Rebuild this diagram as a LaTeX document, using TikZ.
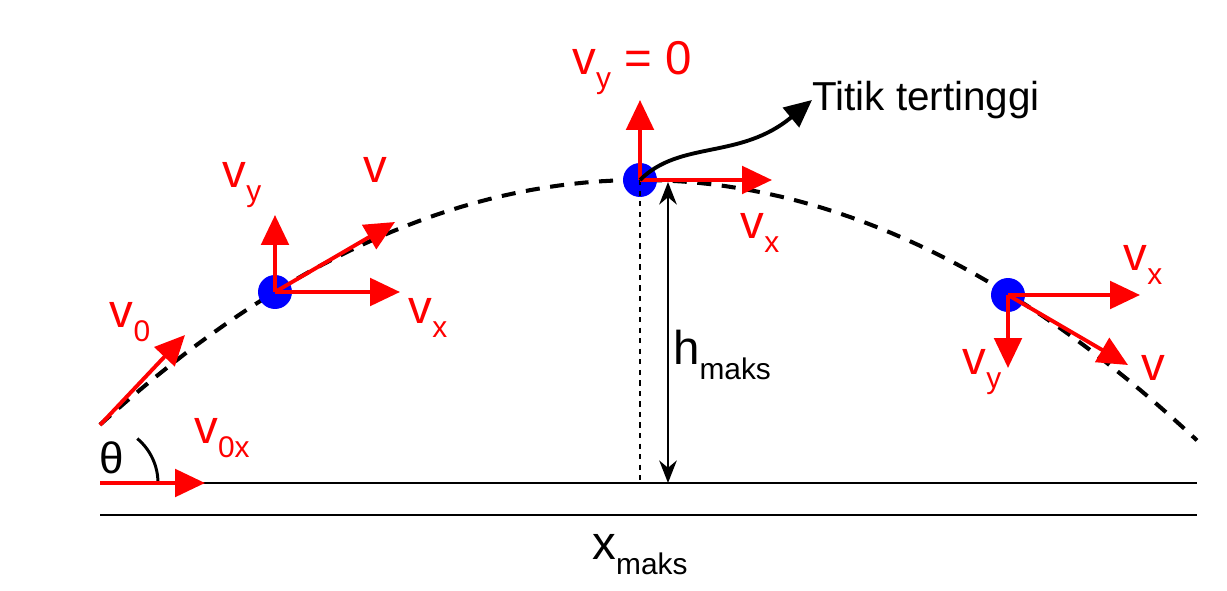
\documentclass[tikz,border=0pt]{standalone}
\usepackage{fontspec}
\setmainfont{Liberation Sans}
\usetikzlibrary{arrows.meta}
\tikzset{vec/.style={draw=red,line width=2.2pt,-{Triangle[length=6mm,width=5.5mm]}}}
\tikzset{ball/.style={circle,fill=blue,minimum size=6.8mm,inner sep=0pt}}
\tikzset{lbl/.style={text=red,inner sep=0pt,font=\fontsize{27}{30}\selectfont}}
\newcommand{\velo}[1]{v\raisebox{-0.55ex}{\fontsize{17}{18}\selectfont #1}}
\begin{document}
\begin{tikzpicture}[x=0.02cm,y=-0.02cm]
    \useasboundingbox (0,0) rectangle (1227,591);
    % ground and range
    \draw[line width=1.5pt] (100,483) -- (1197,483);
    \draw[line width=1.1pt] (100,515) -- (1197,515);
    \node[inner sep=0pt,font=\fontsize{27}{30}\selectfont] (xmaks) at (640,555) {x\raisebox{-0.6ex}{\fontsize{17}{18}\selectfont maks}};
    % trajectory
    \draw[line width=2.3pt,dash pattern=on 8pt off 6pt,domain=100:1197,samples=80]
        plot (\x,{180+0.00084*(\x-640)*(\x-640)});
    % launch
    \coordinate (start) at (100,425);
    \coordinate (origin) at (100,483);
    \draw[line width=1.7pt] (158,483) arc[start angle=0,end angle=50,radius=58*0.02cm];
    \node[inner sep=0pt,font=\fontsize{25}{27}\selectfont] (theta) at (112,458) {θ};
    \coordinate (v0end) at (185,335);
    \coordinate (v0xend) at (205,483);
    \draw[vec] (start) -- (v0end);
    \draw[vec] (origin) -- (v0xend);
    \node[lbl] (v0) at (130,322) {\velo{0}};
    \node[lbl] (v0x) at (222,438) {\velo{0x}};
    % first point
    \node[ball] (p1) at (275,292) {};
    \coordinate (p1y) at (275,215);
    \coordinate (p1x) at (400,292);
    \coordinate (p1v) at (395,222);
    \draw[vec] (p1.center) -- (p1y);
    \draw[vec] (p1.center) -- (p1x);
    \draw[vec] (p1.center) -- (p1v);
    \node[lbl] (p1vy) at (242,185) {\velo{y}};
    \node[lbl] (p1vv) at (375,170) {v};
    \node[lbl] (p1vx) at (428,318) {\velo{x}};
    % highest point
    \node[ball] (top) at (640,180) {};
    \coordinate (topy) at (640,100);
    \coordinate (topx) at (772,180);
    \coordinate (ground) at (640,483);
    \draw[line width=1.5pt,dashed] (top.center) -- (ground);
    \draw[line width=1.5pt,{Stealth[length=4.5mm,width=3.5mm]}-{Stealth[length=4.5mm,width=3.5mm]}] (668,182) -- (668,483);
    \draw[vec] (top.center) -- (topy);
    \draw[vec] (top.center) -- (topx);
    \node[lbl] (topvy) at (632,68) {\velo{y} = 0};
    \node[lbl] (topvx) at (760,233) {\velo{x}};
    \node[inner sep=0pt,font=\fontsize{27}{30}\selectfont] (hmaks) at (722,355) {h\raisebox{-0.6ex}{\fontsize{17}{18}\selectfont maks}};
    \node[inner sep=0pt,anchor=west,font=\fontsize{23}{26}\selectfont] (titik) at (812,100) {Titik tertinggi};
    \draw[line width=2.2pt,-{Triangle[length=5.5mm,width=5mm]}] (top.center) .. controls (680,140) and (740,160) .. (titik.west);
    % third point
    \node[ball] (p3) at (1008,295) {};
    \coordinate (p3x) at (1140,295);
    \coordinate (p3y) at (1008,368);
    \coordinate (p3v) at (1128,365);
    \draw[vec] (p3.center) -- (p3x);
    \draw[vec] (p3.center) -- (p3y);
    \draw[vec] (p3.center) -- (p3v);
    \node[lbl] (p3vx) at (1143,265) {\velo{x}};
    \node[lbl] (p3vy) at (982,372) {\velo{y}};
    \node[lbl] (p3vv) at (1153,368) {v};
\end{tikzpicture}
\end{document}
